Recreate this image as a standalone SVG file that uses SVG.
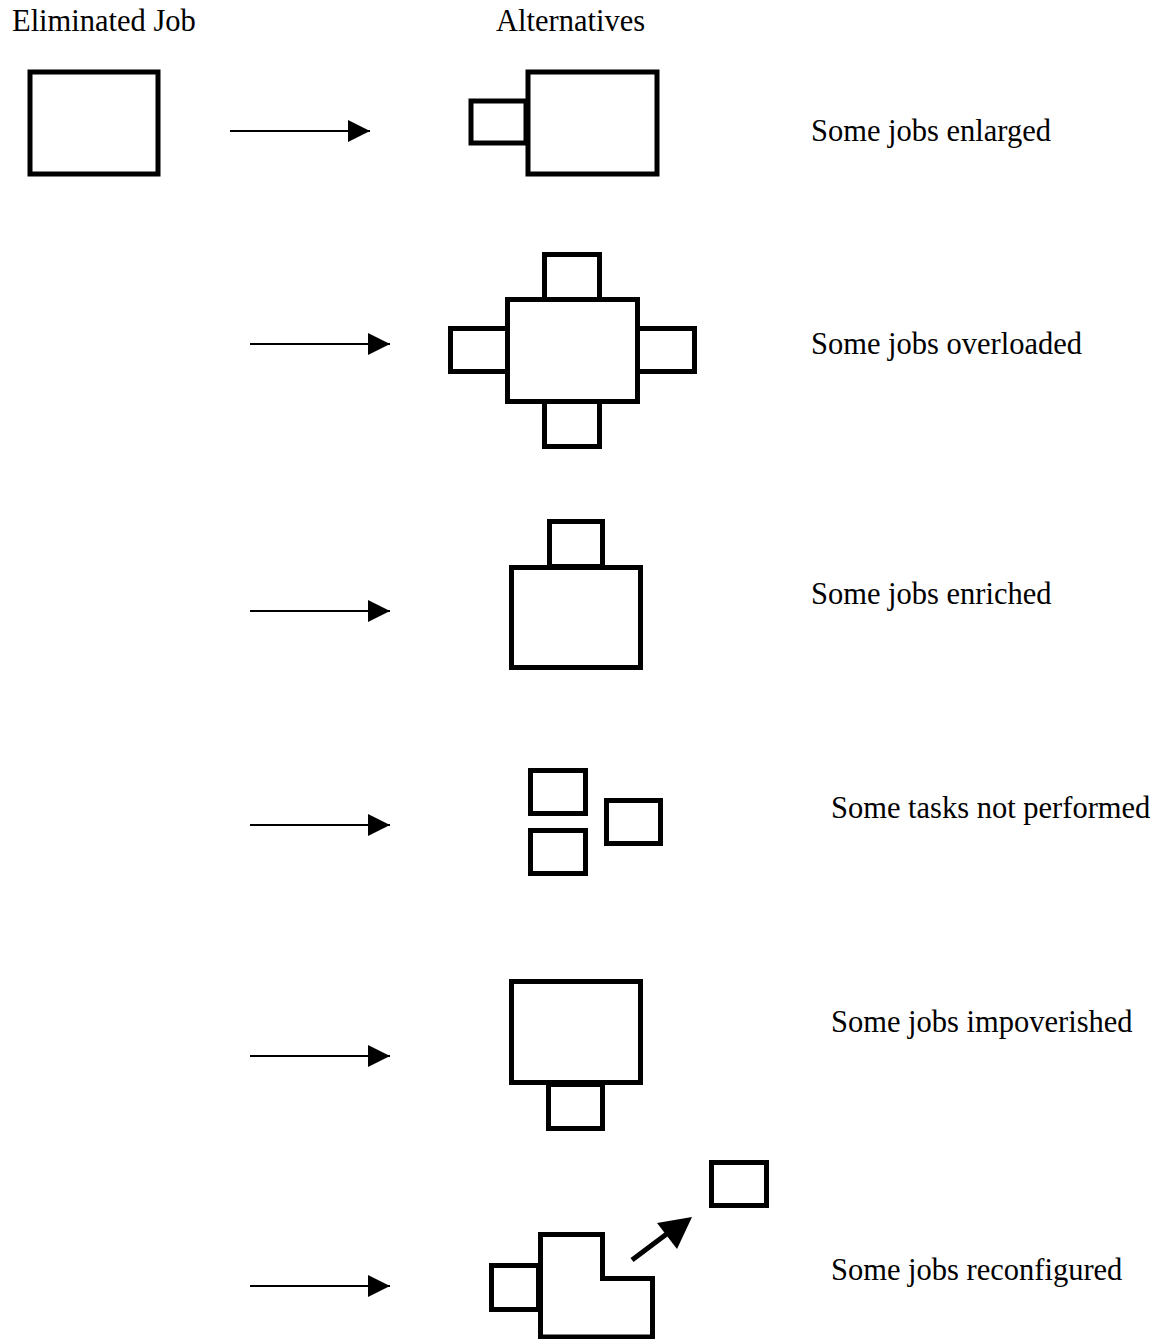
<svg xmlns="http://www.w3.org/2000/svg" width="1158" height="1339" viewBox="0 0 1158 1339">
<style>
.b{fill:none;stroke:#000;stroke-width:5}
.t{font-family:"Liberation Serif","Times New Roman",serif;font-size:30.5px;fill:#000}
.c{stroke:#000;stroke-width:2;fill:none}
</style>
<defs>
<marker id="ah" markerUnits="userSpaceOnUse" markerWidth="24" markerHeight="22" refX="22" refY="11" orient="auto">
<path d="M0,0 L22,11 L0,22 Z" fill="#000"/>
</marker>
</defs>
<rect width="1158" height="1339" fill="#fff"/>
<text class="t" x="12" y="31">Eliminated Job</text>
<text class="t" x="496" y="31">Alternatives</text>
<g id="eliminated"><rect class="b" x="30" y="72" width="128" height="102"/></g>
<g id="enlarged">
<rect class="b" x="471" y="101" width="55" height="42"/>
<rect class="b" x="528" y="72" width="129" height="102"/>
<text class="t" x="811" y="141">Some jobs enlarged</text>
</g>
<g id="overloaded">
<rect class="b" x="544.5" y="254.5" width="55" height="45"/>
<rect class="b" x="544.5" y="401.5" width="55" height="45"/>
<rect class="b" x="450.5" y="328.5" width="57" height="43"/>
<rect class="b" x="637.5" y="328.5" width="57" height="43"/>
<rect class="b" x="507.5" y="299.5" width="130" height="102"/>
<text class="t" x="811" y="354">Some jobs overloaded</text>
</g>
<g id="enriched">
<rect class="b" x="549.5" y="521.5" width="53" height="45"/>
<rect class="b" x="511.5" y="567.5" width="129" height="100"/>
<text class="t" x="811" y="604">Some jobs enriched</text>
</g>
<g id="notperformed">
<rect class="b" x="530.5" y="770.5" width="55" height="43"/>
<rect class="b" x="530.5" y="830.5" width="55" height="43"/>
<rect class="b" x="606.5" y="800.5" width="54" height="43"/>
<text class="t" x="831" y="818">Some tasks not performed</text>
</g>
<g id="impoverished">
<rect class="b" x="511.5" y="981.5" width="129" height="101"/>
<rect class="b" x="548.5" y="1084.5" width="54" height="44"/>
<text class="t" x="831" y="1032">Some jobs impoverished</text>
</g>
<g id="reconfigured">
<rect class="b" x="491.5" y="1265.5" width="47" height="44"/>
<path class="b" d="M540.5,1337 V1234.5 H602.5 V1278.5 H652.5 V1337 Z"/>
<rect class="b" x="711.5" y="1162.5" width="55" height="43"/>
<line x1="632" y1="1260" x2="668" y2="1233" stroke="#000" stroke-width="5"/>
<polygon points="692,1217 657,1223 677,1249" fill="#000"/>
<text class="t" x="831" y="1280">Some jobs reconfigured</text>
</g>
<g id="connectors">
<line class="c" x1="230" y1="131" x2="370" y2="131" marker-end="url(#ah)"/>
<line class="c" x1="250" y1="344" x2="390" y2="344" marker-end="url(#ah)"/>
<line class="c" x1="250" y1="611" x2="390" y2="611" marker-end="url(#ah)"/>
<line class="c" x1="250" y1="825" x2="390" y2="825" marker-end="url(#ah)"/>
<line class="c" x1="250" y1="1056" x2="390" y2="1056" marker-end="url(#ah)"/>
<line class="c" x1="250" y1="1286" x2="390" y2="1286" marker-end="url(#ah)"/>
</g>
</svg>
